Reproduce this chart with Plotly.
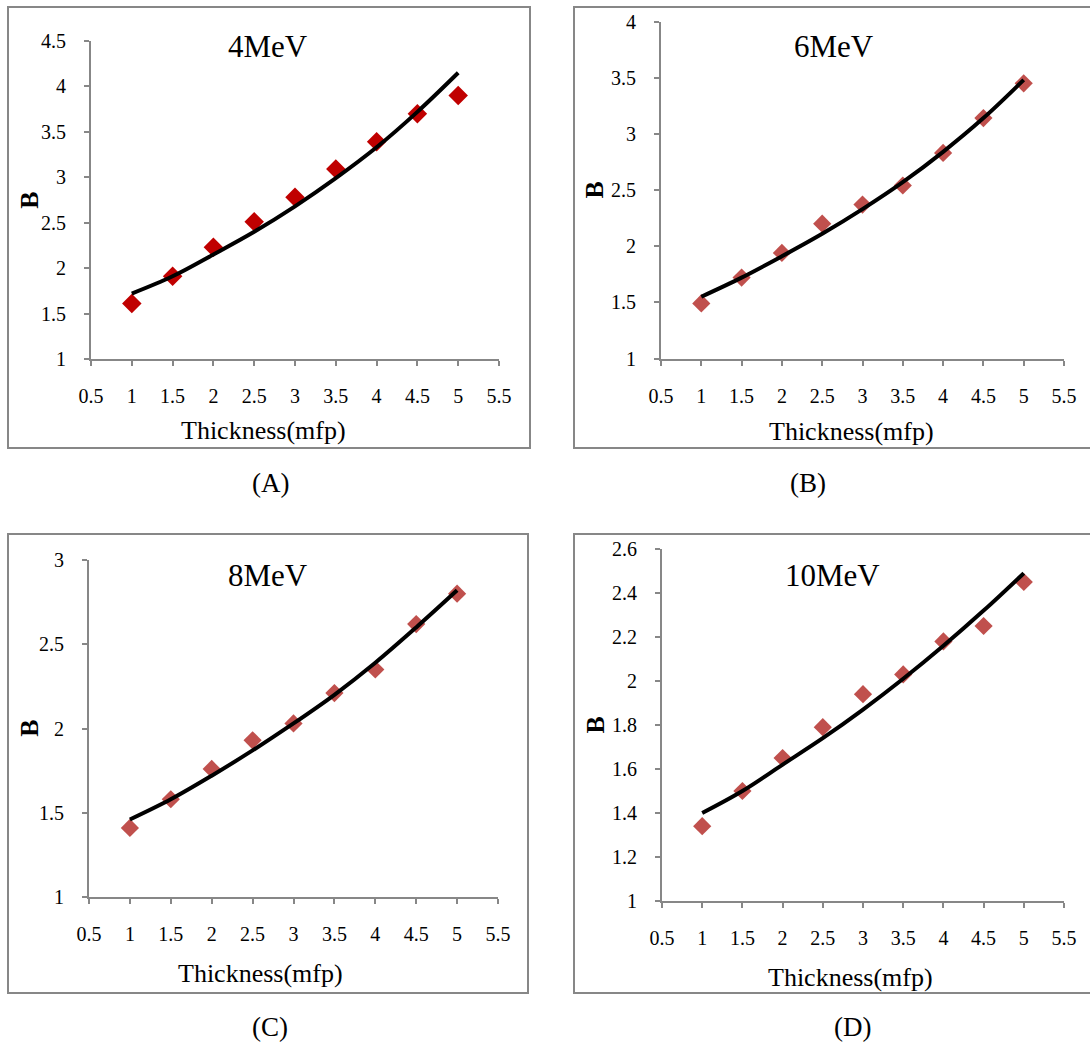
import plotly.graph_objects as go

# ---------------- data ----------------
thickness = [1, 1.5, 2, 2.5, 3, 3.5, 4, 4.5, 5]

b_4mev = [1.61, 1.91, 2.23, 2.51, 2.78, 3.09, 3.39, 3.70, 3.90]
fit_4mev = [1.72, 1.91, 2.15, 2.40, 2.68, 2.99, 3.33, 3.72, 4.15]

b_6mev = [1.49, 1.72, 1.94, 2.20, 2.37, 2.54, 2.83, 3.14, 3.45]
fit_6mev = [1.55, 1.72, 1.91, 2.11, 2.33, 2.57, 2.84, 3.14, 3.48]

b_8mev = [1.41, 1.58, 1.76, 1.93, 2.03, 2.21, 2.35, 2.62, 2.80]
fit_8mev = [1.46, 1.58, 1.72, 1.87, 2.03, 2.20, 2.39, 2.60, 2.82]

b_10mev = [1.34, 1.50, 1.65, 1.79, 1.94, 2.03, 2.18, 2.25, 2.45]
fit_10mev = [1.40, 1.50, 1.62, 1.74, 1.87, 2.01, 2.16, 2.32, 2.49]

x_ticks = [0.5, 1, 1.5, 2, 2.5, 3, 3.5, 4, 4.5, 5, 5.5]
x_tick_text = ["0.5", "1", "1.5", "2", "2.5", "3", "3.5", "4", "4.5", "5", "5.5"]
y_ticks_a = [1, 1.5, 2, 2.5, 3, 3.5, 4, 4.5]
y_ticks_b = [1, 1.5, 2, 2.5, 3, 3.5, 4]
y_ticks_c = [1, 1.5, 2, 2.5, 3]
y_ticks_d = [1, 1.2, 1.4, 1.6, 1.8, 2, 2.2, 2.4, 2.6]

titles = ["4MeV", "6MeV", "8MeV", "10MeV"]
panel_labels = ["(A)", "(B)", "(C)", "(D)"]
x_title = "Thickness(mfp)"
y_title = "B"

# ---------------- layout helpers ----------------
W, H = 1090, 1042
FONT = "Liberation Serif, Times New Roman, serif"
GRAY = "#878787"


def px(x):
    return x / W


def py(y):
    return 1 - y / H


panels = [
    dict(b=b_4mev, fit=fit_4mev, color="#C00000", msize=15, yt=y_ticks_a,
         yr=[1, 4.5], xd=(91, 499), yd=(41, 359)),
    dict(b=b_6mev, fit=fit_6mev, color="#C0504D", msize=14, yt=y_ticks_b,
         yr=[1, 4], xd=(661, 1064), yd=(21.5, 358.5)),
    dict(b=b_8mev, fit=fit_8mev, color="#C0504D", msize=14, yt=y_ticks_c,
         yr=[1, 3], xd=(89, 498), yd=(560, 897)),
    dict(b=b_10mev, fit=fit_10mev, color="#C0504D", msize=14, yt=y_ticks_d,
         yr=[1, 2.6], xd=(662, 1064), yd=(549, 901)),
]

fig = go.Figure()
layout = dict(
    template="none",
    width=W, height=H, autosize=False,
    margin=dict(l=0, r=0, t=0, b=0, pad=0, autoexpand=False),
    paper_bgcolor="white", plot_bgcolor="white",
    showlegend=False,
    font=dict(family=FONT, color="black"),
)

for i, p in enumerate(panels):
    n = "" if i == 0 else str(i + 1)
    xa, ya = "x" + n, "y" + n
    fig.add_trace(go.Scatter(
        x=thickness, y=p["b"], mode="markers", xaxis=xa, yaxis=ya,
        marker=dict(symbol="diamond", size=p["msize"], color=p["color"],
                    line=dict(width=0)),
    ))
    fig.add_trace(go.Scatter(
        x=thickness, y=p["fit"], mode="lines", xaxis=xa, yaxis=ya,
        line=dict(color="black", width=4, shape="spline", smoothing=1.0),
    ))
    layout["xaxis" + n] = dict(
        domain=[px(p["xd"][0]), px(p["xd"][1])], anchor=ya,
        range=[0.5, 5.5], tickvals=x_ticks, ticktext=x_tick_text,
        showline=True, linecolor=GRAY, linewidth=2, mirror=False,
        ticks="outside", ticklen=5, tickwidth=2, tickcolor=GRAY,
        showgrid=False, zeroline=False, ticklabelstandoff=13,
        tickfont=dict(family=FONT, size=20, color="black"),
        automargin=False, fixedrange=True,
    )
    layout["yaxis" + n] = dict(
        domain=[py(p["yd"][1]), py(p["yd"][0])], anchor=xa,
        range=p["yr"], tickvals=p["yt"],
        ticktext=[("%g" % v) for v in p["yt"]],
        showline=True, linecolor=GRAY, linewidth=2, mirror=False,
        ticks="outside", ticklen=5, tickwidth=2, tickcolor=GRAY,
        showgrid=False, zeroline=False, ticklabelstandoff=14,
        tickfont=dict(family=FONT, size=20, color="black"),
        automargin=False, fixedrange=True,
    )

fig.update_layout(**layout)

# panel frames
frames = [(8, 7, 530, 448), (574, 7, 1100, 448), (8, 534, 528, 993), (574, 534, 1100, 993)]
for (x0, y0, x1, y1) in frames:
    fig.add_shape(type="rect", xref="paper", yref="paper",
                  x0=px(x0), x1=px(x1), y0=py(y1), y1=py(y0),
                  line=dict(color=GRAY, width=2), fillcolor="rgba(0,0,0,0)")

# text annotations
title_pos = [(267.6, 46.7), (833.5, 46.7), (267.6, 575), (832.6, 575)]
xtitle_pos = [(263, 430), (851, 432), (260, 973), (850, 977)]
ytitle_pos = [(28.7, 200), (594.5, 190), (28.7, 728), (594.5, 725)]
label_pos = [(270.5, 483), (808, 483), (270, 1027), (852, 1027)]

for i in range(4):
    fig.add_annotation(text=titles[i], x=px(title_pos[i][0]), y=py(title_pos[i][1]),
                       xref="paper", yref="paper", showarrow=False,
                       xanchor="center", yanchor="middle",
                       font=dict(family=FONT, size=31, color="black"))
    fig.add_annotation(text=x_title, x=px(xtitle_pos[i][0]), y=py(xtitle_pos[i][1]),
                       xref="paper", yref="paper", showarrow=False,
                       xanchor="center", yanchor="middle",
                       font=dict(family=FONT, size=26, color="black"))
    fig.add_annotation(text="<b>" + y_title + "</b>", x=px(ytitle_pos[i][0]),
                       y=py(ytitle_pos[i][1]), textangle=-90,
                       xref="paper", yref="paper", showarrow=False,
                       xanchor="center", yanchor="middle",
                       font=dict(family=FONT, size=26, color="black"))
    fig.add_annotation(text=panel_labels[i], x=px(label_pos[i][0]), y=py(label_pos[i][1]),
                       xref="paper", yref="paper", showarrow=False,
                       xanchor="center", yanchor="middle",
                       font=dict(family=FONT, size=27, color="black"))

fig.write_html("out.html")
